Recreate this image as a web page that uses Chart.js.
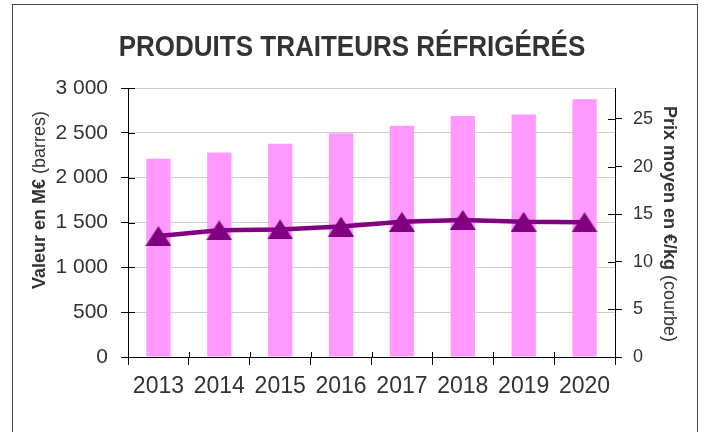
<!DOCTYPE html>
<html><head><meta charset="utf-8">
<script src="https://cdn.jsdelivr.net/npm/chart.js@4/dist/chart.umd.min.js"></script>
<style>html,body{margin:0;padding:0;background:#fff}#wrap{width:704px;height:432px;position:relative}</style>
</head><body><div id="wrap"><canvas id="c" width="704" height="432"></canvas></div>
<script>
const years = ['2013','2014','2015','2016','2017','2018','2019','2020'];
const valeurs = [2210, 2281, 2377, 2496, 2578, 2689, 2704, 2875];
const prix = [12.7, 13.3, 13.4, 13.7, 14.2, 14.4, 14.2, 14.15];
const leftTicks = [0, 500, 1000, 1500, 2000, 2500, 3000];
const rightTicks = [0, 5, 10, 15, 20, 25];
const chartTitle = 'PRODUITS TRAITEURS RÉFRIGÉRÉS';
const leftTitleBold = 'Valeur en M€';
const leftTitleNormal = ' (barres)';
const rightTitleBold = 'Prix moyen en €/kg';
const rightTitleNormal = ' (courbe)';

const FONT = "'Liberation Sans', Arial, sans-serif";
const TXT = '#333333';

// triangle marker (bounding-box centred, like the original)
const tri = document.createElement('canvas');
tri.width = 26; tri.height = 20;
(function(){const g = tri.getContext('2d');g.fillStyle = '#800080';g.beginPath();g.moveTo(13,0);g.lineTo(26,20);g.lineTo(0,20);g.closePath();g.fill();})();

function fmt(v){return String(v).replace(/\B(?=(\d{3})+(?!\d))/g,' ');}

const deco = {
  id: 'deco',
  afterDraw(chart){
    const ctx = chart.ctx, a = chart.chartArea;
    ctx.save();
    // frame
    ctx.strokeStyle = '#4a4a4a'; ctx.lineWidth = 1;
    ctx.strokeRect(12.5, 4.5, 685, 440);
    // inner tick parts
    ctx.strokeStyle = '#000';
    ctx.beginPath();
    const ys = chart.scales.y, y2 = chart.scales.y2, xs = chart.scales.x;
    leftTicks.forEach(v=>{const p = Math.round(ys.getPixelForValue(v))+0.5; ctx.moveTo(a.left, p); ctx.lineTo(a.left+7, p);});
    rightTicks.forEach(v=>{const p = Math.round(y2.getPixelForValue(v))+0.5; ctx.moveTo(a.right-7, p); ctx.lineTo(a.right, p);});
    const step = (a.right - a.left)/years.length;
    for(let i=0;i<=years.length;i++){const p = Math.round(xs.getPixelForValue(i) - step/2)+0.5; ctx.moveTo(p, a.bottom-5); ctx.lineTo(p, a.bottom);}
    ctx.stroke();
    // title (slightly tall, as in the original)
    ctx.save();
    ctx.fillStyle = TXT;
    ctx.font = 'bold 26px ' + FONT;
    ctx.textAlign = 'center'; ctx.textBaseline = 'alphabetic';
    ctx.translate(352, 56); ctx.scale(1, 1.12);
    ctx.fillText(chartTitle, 0, 0);
    ctx.restore();
    // axis titles
    function mixed(cx, cy, rot, b, n){
      ctx.save();
      ctx.fillStyle = TXT;
      ctx.translate(cx, cy); ctx.rotate(rot);
      ctx.textAlign = 'left'; ctx.textBaseline = 'middle';
      ctx.font = 'bold 18px ' + FONT; const wb = ctx.measureText(b).width;
      ctx.font = '18px ' + FONT; const wn = ctx.measureText(n).width;
      let x0 = -(wb+wn)/2;
      ctx.font = 'bold 18px ' + FONT; ctx.fillText(b, x0, 0);
      ctx.font = '18px ' + FONT; ctx.fillText(n, x0+wb, 0);
      ctx.restore();
    }
    mixed(40, 200, -Math.PI/2, leftTitleBold, leftTitleNormal);
    mixed(669, 224, Math.PI/2, rightTitleBold, rightTitleNormal);
    ctx.restore();
  }
};

new Chart(document.getElementById('c'), {
  data: {
    labels: years,
    datasets: [
      {type:'line', label:'Prix', data: prix, yAxisID:'y2', order:0,
       borderColor:'#800080', borderWidth:4.5, tension:0,
       pointStyle: tri, pointRadius: 10, pointHoverRadius: 10},
      {type:'bar', label:'Valeur', data: valeurs, yAxisID:'y', order:1,
       backgroundColor:'#FF99FF', borderWidth:0,
       barPercentage:0.4, categoryPercentage:1}
    ]
  },
  options: {
    responsive:false, animation:false, devicePixelRatio:1,
    layout:{padding:{top:88,left:0,right:0,bottom:0}},
    plugins:{legend:{display:false}, tooltip:{enabled:false}, title:{display:false}},
    scales:{
      x:{
        afterFit(s){s.height = 75;},
        grid:{offset:true, drawOnChartArea:false, tickLength:8, tickColor:'#000'},
        border:{color:'#000', width:1},
        ticks:{font:{family:FONT, size:23}, color:TXT, padding:8, maxRotation:0, autoSkip:false}
      },
      y:{
        position:'left', min:0, max:3000,
        afterFit(s){s.width = 128;},
        afterBuildTicks(s){s.ticks = leftTicks.map(v=>({value:v}));},
        grid:{color:'#cccccc', lineWidth:1, tickLength:7, tickColor:'#000'},
        border:{color:'#000', width:1},
        ticks:{font:{family:FONT, size:21}, color:TXT, padding:13, callback:(v)=>fmt(v)}
      },
      y2:{
        position:'right', min:0, max:28.25,
        afterFit(s){s.width = 89;},
        afterBuildTicks(s){s.ticks = rightTicks.map(v=>({value:v}));},
        grid:{drawOnChartArea:false, tickLength:7, tickColor:'#000'},
        border:{color:'#000', width:1},
        ticks:{font:{family:FONT, size:18}, color:TXT, padding:11, callback:(v)=>String(v)}
      }
    }
  },
  plugins:[deco]
});
</script>
</body></html>
